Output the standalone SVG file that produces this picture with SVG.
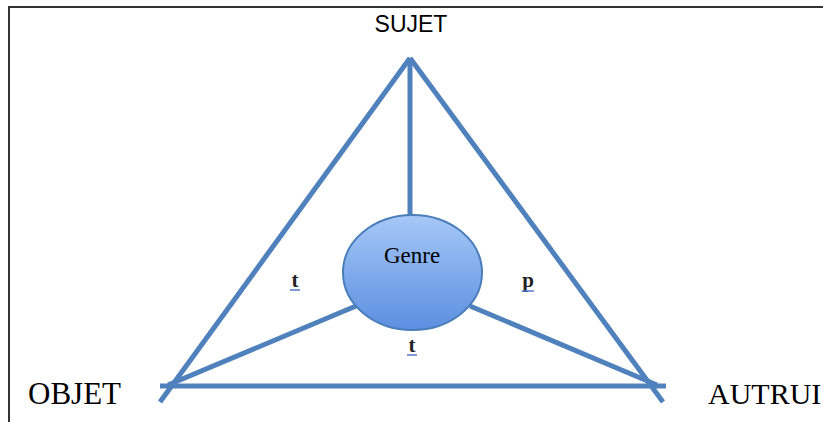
<svg xmlns="http://www.w3.org/2000/svg" width="823" height="422" viewBox="0 0 823 422">
<defs>
<linearGradient id="g" x1="0" y1="0" x2="0" y2="1">
<stop offset="0" stop-color="#a6c8f7"/>
<stop offset="1" stop-color="#5b8fe0"/>
</linearGradient>
<style>
.e{stroke:#4f81bd;stroke-width:5;fill:none;stroke-linecap:butt}
.s{font-family:"Liberation Serif","Times New Roman",serif;fill:#000}
.lbl{font-family:"Liberation Serif","Times New Roman",serif;font-size:21px;font-weight:bold;fill:#222}
.u{stroke:#5577cc;stroke-width:1.5}
</style>
</defs>
<rect width="823" height="422" fill="#fff"/>
<g id="frame">
<line x1="9" y1="7" x2="823" y2="7" stroke="#333" stroke-width="2"/>
<line x1="9" y1="6" x2="9" y2="422" stroke="#333" stroke-width="2"/>
</g>
<g id="connectors">
<line class="e" x1="410" y1="58" x2="160" y2="402"/>
<line class="e" x1="410" y1="58" x2="663" y2="402"/>
<line class="e" x1="410" y1="58" x2="410" y2="216"/>
<line class="e" x1="160" y1="386" x2="666" y2="386"/>
<line class="e" x1="168" y1="385" x2="356" y2="306"/>
<line class="e" x1="470" y1="306" x2="657" y2="385"/>
</g>
<g id="genre">
<ellipse cx="412.5" cy="272.5" rx="69.5" ry="57.5" fill="url(#g)" stroke="#4a7ebb" stroke-width="2"/>
<text class="s" x="412" y="263" font-size="23" text-anchor="middle" fill="#111">Genre</text>
</g>
<g id="sujet"><text x="411" y="32" font-family="Liberation Sans, Arial, sans-serif" font-size="23" text-anchor="middle">SUJET</text></g>
<g id="objet"><text class="s" x="28" y="404" font-size="31">OBJET</text></g>
<g id="autrui"><text class="s" x="708" y="404" font-size="30">AUTRUI</text></g>
<g id="label-t1"><text class="lbl" x="295" y="287" text-anchor="middle">t</text><line class="u" x1="290" y1="290" x2="300" y2="290"/></g>
<g id="label-p"><text class="lbl" x="528" y="287" text-anchor="middle">p</text><line class="u" x1="522" y1="291" x2="534" y2="291"/></g>
<g id="label-t2"><text class="lbl" x="412" y="352" text-anchor="middle">t</text><line class="u" x1="407" y1="355" x2="417" y2="355"/></g>
</svg>
